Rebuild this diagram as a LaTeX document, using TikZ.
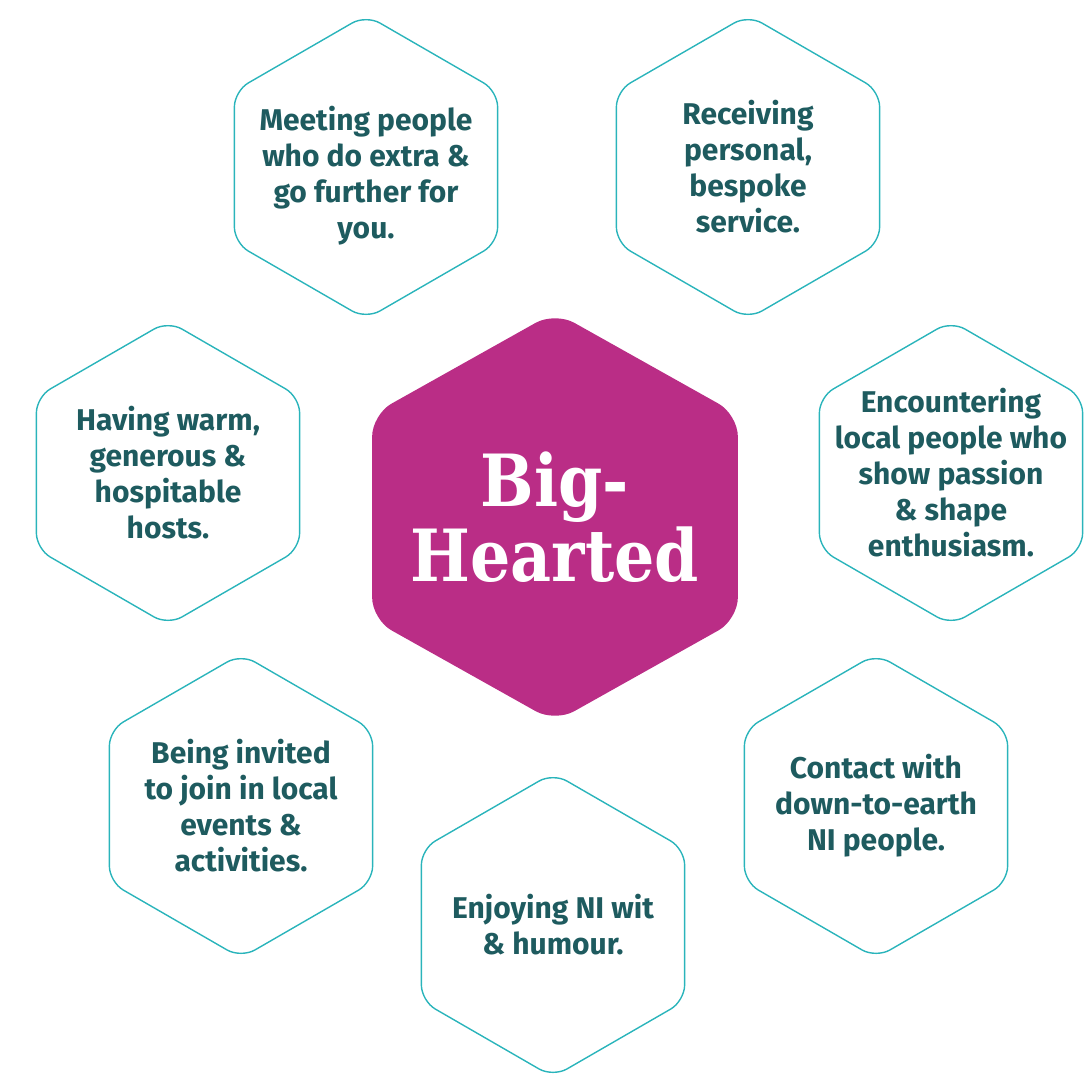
\documentclass[tikz,border=0pt]{standalone}
\usepackage{fontspec}
\setmainfont{Fira Sans}
\newfontfamily\slabfont{DejaVu Serif}
\usetikzlibrary{shapes.geometric}
\definecolor{hexline}{HTML}{2AB4BB}
\definecolor{hextext}{HTML}{1E5B5F}
\definecolor{bigpink}{HTML}{BA2D86}

\begin{document}
\begin{tikzpicture}[x=1pt, y=-1pt,
  every node/.style={regular polygon, regular polygon sides=6, regular polygon rotate=30, inner sep=0pt},
  hexbox/.style={draw=hexline, line width=1.4pt, minimum size=304pt, rounded corners=16pt},
  hexlabel/.style={rectangle, align=center, text=hextext, font=\bfseries\fontsize{30}{36}\selectfont},
  bighex/.style={fill=bigpink, minimum size=410pt, xscale=1.03, rounded corners=22pt}]
\useasboundingbox (0,0) rectangle (1090,1074);
\node[bighex] (H0) at (555,517) {};
\node[rectangle, align=center, text=white, font=\slabfont\bfseries\fontsize{72}{75}\selectfont] (H0T) at (555,517) {\scalebox{0.88}[1]{Big-}\\\scalebox{0.88}[1]{Hearted}};
\node[hexbox, label={[hexlabel, yshift=-9pt]center:{Meeting people\\who do extra \&\\go further for\\you.}}] (H1) at (366,167) {};
\node[hexbox, label={[hexlabel]center:{Receiving\\personal,\\bespoke\\service.}}] (H2) at (748,167) {};
\node[hexbox, label={[hexlabel]center:{Having warm,\\generous \&\\hospitable\\hosts.}}] (H3) at (168,473) {};
\node[hexbox, label={[hexlabel]center:{Encountering\\local people who\\show passion\\\& shape\\enthusiasm.}}] (H4) at (951,473) {};
\node[hexbox, label={[hexlabel]center:{Being invited\\to join in local\\events \&\\activities.}}] (H5) at (241,806) {};
\node[hexbox, label={[hexlabel]center:{Contact with\\down-to-earth\\NI people.}}] (H6) at (876,806) {};
\node[hexbox, label={[hexlabel]center:{Enjoying NI wit\\\& humour.}}] (H7) at (553,925) {};
\end{tikzpicture}
\end{document}
